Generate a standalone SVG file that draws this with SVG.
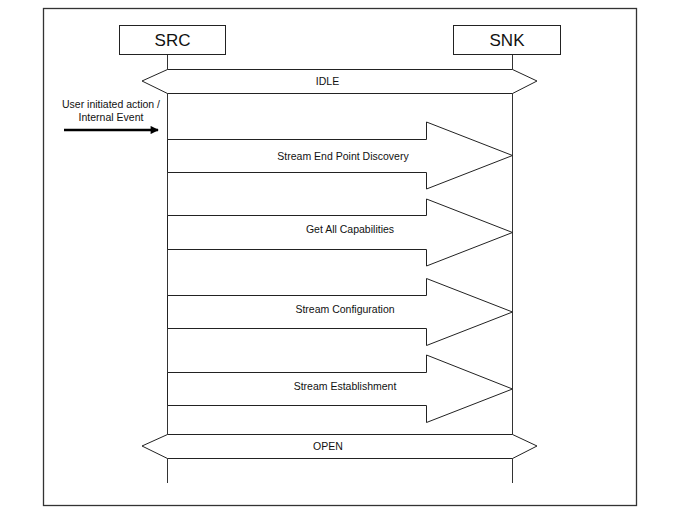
<svg xmlns="http://www.w3.org/2000/svg" width="691" height="515" viewBox="0 0 691 515">
<defs>
<style>
.frame{fill:none;stroke:#333;stroke-width:1.3}
.box{fill:#fff;stroke:#222;stroke-width:1}
.life{stroke:#333;stroke-width:1;fill:none}
.shape{fill:#fff;stroke:#222;stroke-width:1;stroke-linejoin:miter}
.t{font-family:"Liberation Sans",Arial,sans-serif;font-size:10.5px;fill:#111;text-anchor:middle}
.h{font-family:"Liberation Sans",Arial,sans-serif;font-size:17px;fill:#111;text-anchor:middle}
</style>
<marker id="ah" viewBox="0 0 10 10" refX="9" refY="5" markerWidth="3.8" markerHeight="3.4" orient="auto" markerUnits="strokeWidth">
<path d="M0,0 L10,5 L0,10 z" fill="#000"/>
</marker>
</defs>
<rect x="0" y="0" width="691" height="515" fill="#fff"/>
<rect class="frame" x="43.5" y="8.5" width="593" height="497"/>

<g id="connectors">
<line class="life" x1="167.5" y1="54" x2="167.5" y2="483"/>
<line class="life" x1="512.5" y1="54" x2="512.5" y2="483"/>
<line x1="64" y1="130" x2="158" y2="130" stroke="#000" stroke-width="2.4" marker-end="url(#ah)"/>
</g>

<g id="src">
<rect class="box" x="119.5" y="25.5" width="106" height="29"/>
<text class="h" x="172.5" y="46">SRC</text>
</g>
<g id="snk">
<rect class="box" x="453.5" y="25.5" width="107" height="29"/>
<text class="h" x="507" y="46">SNK</text>
</g>

<g id="idle">
<polygon class="shape" points="142,81 167.5,69.5 512.5,69.5 537,81 512.5,93.5 167.5,93.5"/>
<text class="t" x="327.5" y="84.5">IDLE</text>
</g>

<g id="event">
<text class="t" x="111" y="107.5">User initiated action /</text>
<text class="t" x="111" y="120.5">Internal Event</text>
</g>

<g id="discovery">
<polygon class="shape" points="167.5,139.5 426.5,139.5 426.5,122 512.5,155.5 426.5,189 426.5,172.5 167.5,172.5"/>
<text class="t" x="343" y="159.5">Stream End Point Discovery</text>
</g>

<g id="getcaps">
<polygon class="shape" points="167.5,215.5 426.5,215.5 426.5,199 512.5,232.5 426.5,266 426.5,249.5 167.5,249.5"/>
<text class="t" x="350" y="232.5">Get All Capabilities</text>
</g>

<g id="config">
<polygon class="shape" points="167.5,295.5 426.5,295.5 426.5,278.5 512.5,312 426.5,345.5 426.5,328.5 167.5,328.5"/>
<text class="t" x="345" y="312.5">Stream Configuration</text>
</g>

<g id="establish">
<polygon class="shape" points="167.5,372.5 426.5,372.5 426.5,355 512.5,389 426.5,422.5 426.5,405.5 167.5,405.5"/>
<text class="t" x="345" y="389.5">Stream Establishment</text>
</g>

<g id="open">
<polygon class="shape" points="142,446 167.5,434.5 512.5,434.5 537,446 512.5,458.5 167.5,458.5"/>
<text class="t" x="328" y="449.5">OPEN</text>
</g>
</svg>
